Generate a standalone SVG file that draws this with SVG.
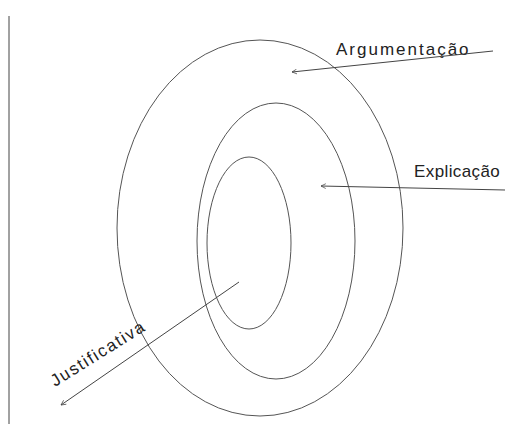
<svg xmlns="http://www.w3.org/2000/svg" width="505" height="424" viewBox="0 0 505 424">
<defs>
<style>
.e{fill:none;stroke:#555;stroke-width:1}
.c{fill:none;stroke:#444;stroke-width:1}
.t{font-family:"Liberation Sans",Arial,sans-serif;font-size:17px;fill:#222}
</style>
<marker id="ah" viewBox="0 0 10 10" refX="9" refY="5" markerWidth="6" markerHeight="6" orient="auto" markerUnits="userSpaceOnUse">
<polyline points="1,1 9,5 1,9" fill="none" stroke="#444" stroke-width="1.2"/>
</marker>
</defs>
<rect width="505" height="424" fill="#fff"/>
<line x1="9" y1="16" x2="9" y2="424" stroke="#444" stroke-width="1"/>
<g id="argumentacao">
<ellipse class="e" cx="260" cy="228" rx="143" ry="188"/>
<text class="t" x="336" y="55" letter-spacing="2">Argumentação</text>
</g>
<g id="explicacao">
<ellipse class="e" cx="276" cy="241" rx="79" ry="138"/>
<text class="t" x="414" y="177" letter-spacing="0.4">Explicação</text>
</g>
<g id="justificativa">
<ellipse class="e" cx="249" cy="243" rx="42" ry="86"/>
<text class="t" transform="translate(55,387) rotate(-32)" letter-spacing="1.6">Justificativa</text>
</g>
<g id="connectors">
<line class="c" x1="493" y1="51" x2="292" y2="72" marker-end="url(#ah)"/>
<line class="c" x1="505" y1="190" x2="321" y2="186" marker-end="url(#ah)"/>
<line class="c" x1="239" y1="282" x2="61" y2="405" marker-end="url(#ah)"/>
</g>
</svg>
